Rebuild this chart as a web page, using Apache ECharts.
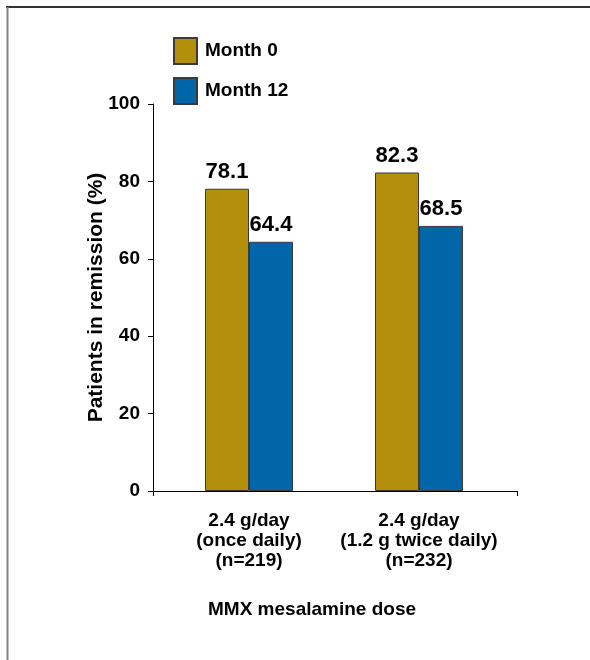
<!DOCTYPE html>
<html><head><meta charset="utf-8">
<script src="https://cdn.jsdelivr.net/npm/echarts@6/dist/echarts.min.js"></script>
<style>html,body{margin:0;padding:0;background:#fff}#c{width:590px;height:660px}</style>
</head><body><div id="c"></div>
<script>
var categories = ['2.4 g/day\n(once daily)\n(n=219)', '2.4 g/day\n(1.2 g twice daily)\n(n=232)'];
var month0 = [78.1, 82.3];
var month12 = [64.4, 68.5];
var seriesNames = ['Month 0', 'Month 12'];
var yTicks = [0, 20, 40, 60, 80, 100];
var xTitle = 'MMX mesalamine dose';
var yTitle = 'Patients in remission (%)';

var chart = echarts.init(document.getElementById('c'), null, {renderer: 'canvas'});
var font = 'Liberation Sans, Arial, sans-serif';
var labelStyle = {show: true, position: 'top', distance: 6, fontFamily: font, fontWeight: 'bold', fontSize: 22, color: '#000', formatter: function(p){return p.value.toFixed(1);}};
chart.setOption({
  animation: false,
  textStyle: {fontFamily: font},
  title: {
    text: xTitle, left: 208, top: 600, padding: 0,
    textStyle: {fontFamily: font, fontWeight: 'bold', fontSize: 19, color: '#000'}
  },
  legend: {
    orient: 'vertical', left: 173, top: 37, padding: 0, itemWidth: 23, itemHeight: 26, itemGap: 12,
    icon: 'rect',
    textStyle: {fontFamily: font, fontWeight: 'bold', fontSize: 19, color: '#000', padding: [2,0,0,3]},
    data: seriesNames
  },
  grid: [
    {left: 164, right: 86, top: 104, bottom: 169, containLabel: false},
    {left: 153, right: 73, top: 104, bottom: 169, containLabel: false}
  ],
  xAxis: [
    {
      type: 'category', data: categories, gridIndex: 0,
      axisLine: {show: false},
      axisTick: {show: false},
      axisLabel: {interval: 0, margin: 20, fontFamily: font, fontWeight: 'bold', fontSize: 19, color: '#000', lineHeight: 20}
    },
    {
      type: 'value', gridIndex: 1, min: 0, max: 2, interval: 2,
      axisLine: {show: true, lineStyle: {color: '#000', width: 1}},
      axisTick: {show: true, length: 5, lineStyle: {color: '#000'}},
      axisLabel: {show: false},
      splitLine: {show: false}
    }
  ],
  yAxis: [
    {
      type: 'value', gridIndex: 0, min: yTicks[0], max: yTicks[yTicks.length-1], interval: 20, offset: 11,
      axisLine: {show: true, lineStyle: {color: '#000', width: 1}},
      axisTick: {show: true, length: 5, lineStyle: {color: '#000'}},
      splitLine: {show: false},
      axisLabel: {margin: 13, fontFamily: font, fontWeight: 'bold', fontSize: 19, color: '#000'},
      name: yTitle, nameLocation: 'middle', nameGap: 46, nameRotate: 90, nameMoveOverlap: false,
      nameTextStyle: {fontFamily: font, fontWeight: 'bold', fontSize: 21, color: '#000'}
    },
    {
      type: 'value', gridIndex: 1, min: 0, max: 100, show: false
    }
  ],
  series: [
    {name: seriesNames[0], type: 'bar', data: month0, barWidth: 44, barGap: '0%', xAxisIndex: 0, yAxisIndex: 0,
     itemStyle: {color: '#B38F0B', borderColor: '#3a3a3a', borderWidth: 1}, label: labelStyle},
    {name: seriesNames[1], type: 'bar', data: month12, barWidth: 44, barGap: '0%', xAxisIndex: 0, yAxisIndex: 0,
     itemStyle: {color: '#0066AA', borderColor: '#3a3a3a', borderWidth: 1}, label: labelStyle}
  ],
  graphic: [
    {type: 'line', shape: {x1: 6, y1: 7, x2: 590, y2: 7}, style: {stroke: '#333', lineWidth: 2}},
    {type: 'line', shape: {x1: 7.5, y1: 7, x2: 7.5, y2: 660}, style: {stroke: '#808080', lineWidth: 2}}
  ]
});
</script></body></html>
